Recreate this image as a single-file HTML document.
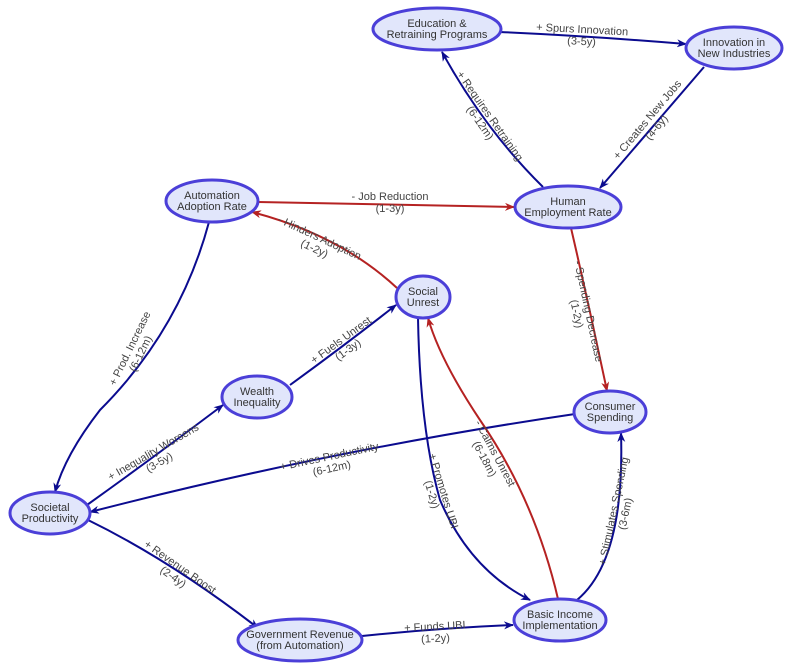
<!DOCTYPE html>
<html><head><meta charset="utf-8"><style>
html,body{margin:0;padding:0;background:#fff;}
svg{display:block;font-family:"Liberation Sans",sans-serif;}
.n{fill:#e1e6fb;stroke:#4b3fd8;stroke-width:3;}
.nt{font-size:11px;fill:#333;text-anchor:middle;}
.b{fill:none;stroke:#0b0b8f;stroke-width:2;marker-end:url(#ab);}
.r{fill:none;stroke:#b52222;stroke-width:2;marker-end:url(#ar);}
.l{font-size:11px;fill:#444;text-anchor:middle;}
</style></head><body>
<svg width="791" height="670" viewBox="0 0 791 670">
<defs>
<marker id="ab" markerWidth="10" markerHeight="8" refX="9" refY="4" orient="auto" markerUnits="userSpaceOnUse"><path d="M0,0 L10,4 L0,8 L3,4 Z" fill="#0b0b8f"/></marker>
<marker id="ar" markerWidth="10" markerHeight="8" refX="9" refY="4" orient="auto" markerUnits="userSpaceOnUse"><path d="M0,0 L10,4 L0,8 L3,4 Z" fill="#b52222"/></marker>
</defs>
<path class="b" d="M500,32 Q590,36 686,44"/>
<path class="b" d="M704,67 Q650,130 600,188"/>
<path class="b" d="M543,187 Q485,130 442,52"/>
<path class="r" d="M258,202 Q390,205 514,207"/>
<path class="r" d="M397,288 Q340,235 252,212"/>
<path class="b" d="M209,222 Q180,330 100,410 Q65,455 55,492"/>
<path class="r" d="M571,228 Q590,310 607,391"/>
<path class="b" d="M290,385 Q345,345 396,305"/>
<path class="b" d="M87,505 Q150,460 223,405"/>
<path class="b" d="M575,414 Q330,450 90,512"/>
<path class="b" d="M418,318 Q420,430 440,500 Q470,570 530,600"/>
<path class="r" d="M558,599 Q535,500 480,420 Q440,360 428,318"/>
<path class="b" d="M577,600 Q625,560 621,433"/>
<path class="b" d="M88,520 Q170,560 258,628"/>
<path class="b" d="M362,636 Q440,628 513,625"/>
<g transform="translate(582,33) rotate(3)"><text class="l" y="0">+ Spurs Innovation</text><text class="l" y="12">(3-5y)</text></g>
<g transform="translate(650,122) rotate(-50)"><text class="l" y="0">+ Creates New Jobs</text><text class="l" y="12">(4-6y)</text></g>
<g transform="translate(487,118) rotate(55)"><text class="l" y="0">+ Requires Retraining</text><text class="l" y="12">(6-12m)</text></g>
<g transform="translate(390,200)"><text class="l" y="0">- Job Reduction</text><text class="l" y="12">(1-3y)</text></g>
<g transform="translate(318,241) rotate(25)"><text class="l" y="0">- Hinders Adoption</text><text class="l" y="12">(1-2y)</text></g>
<g transform="translate(133,350) rotate(-64)"><text class="l" y="0">+ Prod. Increase</text><text class="l" y="12">(6-12m)</text></g>
<g transform="translate(585,312) rotate(78)"><text class="l" y="0">- Spending Decrease</text><text class="l" y="12">(1-2y)</text></g>
<g transform="translate(343,343) rotate(-36)"><text class="l" y="0">+ Fuels Unrest</text><text class="l" y="12">(1-3y)</text></g>
<g transform="translate(155,455) rotate(-30)"><text class="l" y="0">+ Inequality Worsens</text><text class="l" y="12">(3-5y)</text></g>
<g transform="translate(330,460) rotate(-12)"><text class="l" y="0">+ Drives Productivity</text><text class="l" y="12">(6-12m)</text></g>
<g transform="translate(440,492) rotate(73)"><text class="l" y="0">+ Promotes UBI</text><text class="l" y="12">(1-2y)</text></g>
<g transform="translate(492,455) rotate(62)"><text class="l" y="0">- Calms Unrest</text><text class="l" y="12">(6-18m)</text></g>
<g transform="translate(617,512) rotate(-78)"><text class="l" y="0">+ Stimulates Spending</text><text class="l" y="12">(3-6m)</text></g>
<g transform="translate(178,570) rotate(35)"><text class="l" y="0">+ Revenue Boost</text><text class="l" y="12">(2-4y)</text></g>
<g transform="translate(435,630) rotate(-3)"><text class="l" y="0">+ Funds UBI</text><text class="l" y="12">(1-2y)</text></g>
<ellipse class="n" cx="437" cy="29" rx="64" ry="21"/><text class="nt" x="437" y="27">Education &amp;</text><text class="nt" x="437" y="38">Retraining Programs</text>
<ellipse class="n" cx="734" cy="48" rx="48" ry="21"/><text class="nt" x="734" y="46">Innovation in</text><text class="nt" x="734" y="57">New Industries</text>
<ellipse class="n" cx="568" cy="207" rx="53" ry="21"/><text class="nt" x="568" y="205">Human</text><text class="nt" x="568" y="216">Employment Rate</text>
<ellipse class="n" cx="212" cy="201" rx="46" ry="21"/><text class="nt" x="212" y="199">Automation</text><text class="nt" x="212" y="210">Adoption Rate</text>
<ellipse class="n" cx="423" cy="297" rx="27" ry="21"/><text class="nt" x="423" y="295">Social</text><text class="nt" x="423" y="306">Unrest</text>
<ellipse class="n" cx="257" cy="397" rx="35" ry="21"/><text class="nt" x="257" y="395">Wealth</text><text class="nt" x="257" y="406">Inequality</text>
<ellipse class="n" cx="610" cy="412" rx="36" ry="21"/><text class="nt" x="610" y="410">Consumer</text><text class="nt" x="610" y="421">Spending</text>
<ellipse class="n" cx="50" cy="513" rx="40" ry="21"/><text class="nt" x="50" y="511">Societal</text><text class="nt" x="50" y="522">Productivity</text>
<ellipse class="n" cx="560" cy="620" rx="46" ry="21"/><text class="nt" x="560" y="618">Basic Income</text><text class="nt" x="560" y="629">Implementation</text>
<ellipse class="n" cx="300" cy="640" rx="62" ry="21"/><text class="nt" x="300" y="638">Government Revenue</text><text class="nt" x="300" y="649">(from Automation)</text>
</svg>
</body></html>
